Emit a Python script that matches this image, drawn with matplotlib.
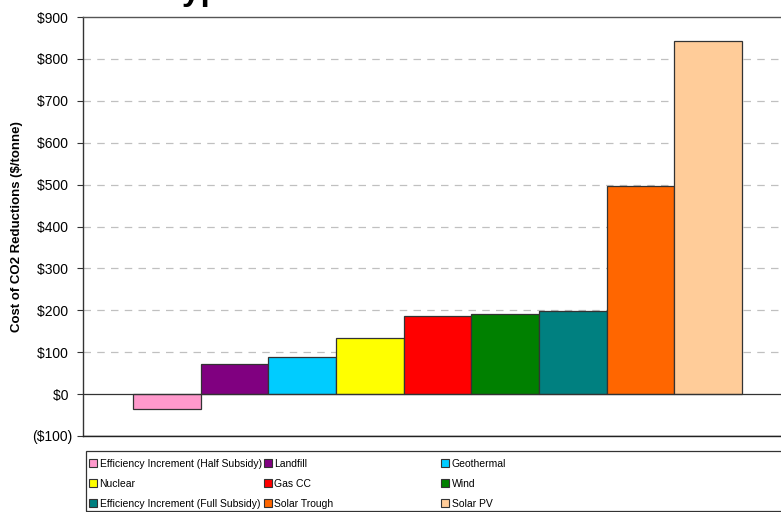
import matplotlib
matplotlib.use("Agg")
import matplotlib.pyplot as plt
from matplotlib.patches import Patch, Rectangle
from matplotlib.ticker import FuncFormatter

plt.rcParams['font.family'] = ['Liberation Sans', 'DejaVu Sans']

categories = ["Efficiency Increment (Half Subsidy)", "Landfill", "Geothermal",
              "Nuclear", "Gas CC", "Wind",
              "Efficiency Increment (Full Subsidy)", "Solar Trough", "Solar PV"]
values = [-36, 71, 88, 133, 187, 192, 198, 497, 843]
colors = ["#FF99CC", "#800080", "#00CCFF", "#FFFF00", "#FF0000", "#008000",
          "#008080", "#FF6600", "#FFCC99"]
yticks = list(range(-100, 901, 100))

W, H = 781, 512
fig = plt.figure(figsize=(W / 100, H / 100), dpi=100)
ax = fig.add_axes([83 / W, 1 - 436 / H, (781 - 83) / W, (436 - 17) / H])

x = list(range(len(categories)))
ax.bar(x, values, width=1.0, color=colors, edgecolor="#333333", linewidth=0.9, zorder=3)

ax.set_ylim(-100, 900)
ax.set_xlim(-0.5 - 50 / 67.6, 8.5 + 39 / 67.6)
ax.set_yticks(yticks)
ax.yaxis.set_major_formatter(FuncFormatter(
    lambda v, p: f"${int(v)} " if v >= 0 else f"(${int(-v)})"))
ax.set_xticks([])
ax.tick_params(axis='y', labelsize=10, length=4.5, width=0.8, color="#333333", pad=3.5)

for t in yticks[1:-1]:
    if t == 0:
        continue
    ax.axhline(t, color="#C0C0C0", linewidth=0.9, dashes=(6, 5), zorder=1)
ax.axhline(-100, color="#D0D0D0", linewidth=1.2, zorder=1)
ax.axhline(0, color="#333333", linewidth=0.9, zorder=4)

ax.spines['right'].set_visible(False)
ax.spines['top'].set_color("#555555")
ax.spines['left'].set_color("#333333")
ax.spines['bottom'].set_color("#222222")
for s in ['top', 'left', 'bottom']:
    ax.spines[s].set_linewidth(1.0)

ax.set_ylabel("Cost of CO2 Reductions ($/tonne)", fontsize=9.5, fontweight='bold')
ax.yaxis.set_label_coords((23 - 83) / 698, 0.5)

# title (mostly cut off at the top of the image in the original)
fig.text(165 / W, 1.0, "Type", fontsize=24, fontweight='bold',
         ha='left', va='baseline')

# legend: row-major order in 3 columns of equal width
ncols = 3
col_x = [87, 262, 439]
for c in range(ncols):
    idx = [r * ncols + c for r in range(3)]
    hs = [Patch(facecolor=colors[i], edgecolor="#333333", linewidth=0.8) for i in idx]
    ls = [categories[i] for i in idx]
    fig.legend(hs, ls, loc='upper left',
               bbox_to_anchor=(col_x[c] / W, 1 - 457 / H),
               ncol=1, fontsize=7.5, frameon=False,
               handlelength=0.75, handleheight=0.8, handletextpad=0.25,
               borderpad=0.2, labelspacing=0.95, borderaxespad=0)
fig.add_artist(Rectangle((86 / W, 1 - 511 / H), (800 - 86) / W, 60 / H,
                         transform=fig.transFigure, fill=False,
                         edgecolor="#333333", linewidth=0.9))

fig.savefig("out.png", dpi=100)
